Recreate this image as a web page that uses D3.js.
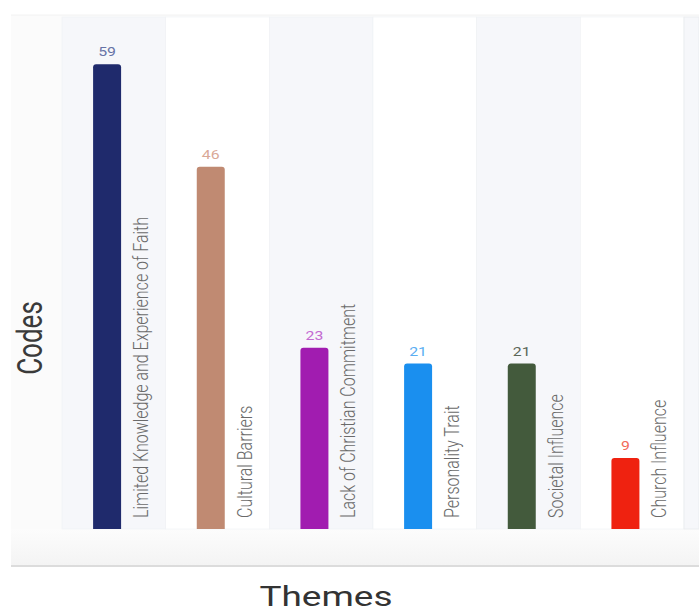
<!DOCTYPE html>
<html>
<head>
<meta charset="utf-8">
<script src="https://cdn.jsdelivr.net/npm/d3@7/dist/d3.min.js"></script>
<style>
  html, body { margin: 0; padding: 0; background: #fff; }
  svg { display: block; font-family: Roboto, "Noto Sans", sans-serif; }
</style>
</head>
<body>
<svg id="chart" width="699" height="614"></svg>
<script>
// Theme categories and their code counts
const categories = [
  "Limited Knowledge and Experience of Faith",
  "Cultural Barriers",
  "Lack of Christian Commitment",
  "Personality Trait",
  "Societal Influence",
  "Church Influence"
];
const values = [59, 46, 23, 21, 21, 9];
const barColors = ["#1f2a6c", "#c08a72", "#a11cb0", "#1a8fef", "#435a3c", "#ef2210"];
const valueColors = ["#6673a6", "#d9a896", "#c46ad2", "#5aaef2", "#5b6657", "#f26a5a"];
const axisTitles = { x: "Themes", y: "Codes" };

const W = 699, H = 614;
const SX = 1.32; // horizontal text stretch
const plot = { left: 62, right: 684, top: 17, bottom: 529 };

const svg = d3.select("#chart");

const x = d3.scaleBand().domain(categories).range([plot.left, plot.right]).padding(0);
const y = d3.scaleLinear().domain([0, 65]).range([plot.bottom, plot.top]);
const bw = x.bandwidth();

// Panel background
svg.append("rect").attr("x", 11).attr("y", plot.top - 2).attr("width", W - 11).attr("height", 566 - plot.top + 2)
  .attr("fill", "#fbfbfb");
svg.append("line").attr("x1", 11).attr("x2", W).attr("y1", plot.top - 2).attr("y2", plot.top - 2)
  .attr("stroke", "#f2f2f2").attr("stroke-width", 1);

// Lower strip under the bars
const grad = svg.append("defs").append("linearGradient").attr("id", "strip").attr("x1", 0).attr("x2", 0).attr("y1", 0).attr("y2", 1);
grad.append("stop").attr("offset", "0%").attr("stop-color", "#fcfcfc");
grad.append("stop").attr("offset", "100%").attr("stop-color", "#f4f4f4");
svg.append("rect").attr("x", 11).attr("y", plot.bottom).attr("width", W - 11).attr("height", 565 - plot.bottom)
  .attr("fill", "url(#strip)");

// Alternating column stripes
svg.append("g").selectAll("rect").data(categories).join("rect")
  .attr("x", d => x(d))
  .attr("y", plot.top)
  .attr("width", bw)
  .attr("height", plot.bottom - plot.top)
  .attr("fill", (d, i) => i % 2 === 0 ? "#f6f7fa" : "#ffffff")
  .attr("stroke", "#eff1f4").attr("stroke-width", 0.6);
svg.append("rect").attr("x", plot.right).attr("y", plot.top).attr("width", W - plot.right).attr("height", plot.bottom - plot.top)
  .attr("fill", "#f6f7fa").attr("stroke", "#e9ebee").attr("stroke-width", 0.8);

// Baseline rule
svg.append("line").attr("x1", 11).attr("x2", W).attr("y1", 566).attr("y2", 566)
  .attr("stroke", "#dcdcdc").attr("stroke-width", 2);

// Bars with rounded tops
const barX = d => x(d) + bw * 0.3;
const barW = bw * 0.27;
const r = 3;
function barPath(d, i) {
  const x0 = barX(d), x1 = x0 + barW, y0 = y(values[i]), yb = y(0);
  return `M${x0},${yb}V${y0 + r}Q${x0},${y0} ${x0 + r},${y0}H${x1 - r}Q${x1},${y0} ${x1},${y0 + r}V${yb}Z`;
}
svg.append("g").selectAll("path").data(categories).join("path")
  .attr("d", barPath)
  .attr("fill", (d, i) => barColors[i]);

// Value labels above bars
svg.append("g").selectAll("g").data(categories).join("g")
  .attr("transform", (d, i) => `translate(${barX(d) + barW / 2},${y(values[i]) - 8}) scale(${SX},1)`)
  .append("text")
  .attr("text-anchor", "middle")
  .attr("font-size", 12)
  .attr("fill", (d, i) => valueColors[i])
  .text((d, i) => values[i]);

// Category labels, rotated beside each bar
svg.append("g").selectAll("g").data(categories).join("g")
  .attr("transform", d => `translate(${barX(d) + barW + 27},${plot.bottom - 11}) scale(${SX},1) rotate(-90)`)
  .append("text")
  .attr("text-anchor", "start")
  .attr("font-size", 16)
  .attr("font-weight", 300)
  .attr("fill", "#6a6a6a")
  .text(d => d);

// Axis titles
svg.append("g").attr("transform", `translate(42,338) scale(${SX},1) rotate(-90)`)
  .append("text").attr("text-anchor", "middle").attr("font-size", 26).attr("fill", "#3a3a3a")
  .text(axisTitles.y);
svg.append("g").attr("transform", `translate(326,606) scale(${SX},1)`)
  .append("text").attr("text-anchor", "middle").attr("font-size", 28).attr("fill", "#333")
  .text(axisTitles.x);
</script>
</body>
</html>
